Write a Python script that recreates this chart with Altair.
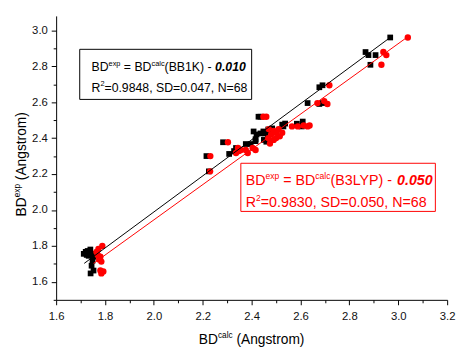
import altair as alt
import pandas as pd

# ---------------- data ----------------
bb1k_calc = [1.713, 1.721, 1.729, 1.737, 1.733, 1.745, 1.753, 1.749, 1.745, 1.753, 1.741, 1.725, 1.740,
             2.215, 2.225, 2.283, 2.308, 2.328, 2.336, 2.376, 2.396, 2.416, 2.416, 2.408, 2.448,
             2.428, 2.436, 2.420, 2.436, 2.456, 2.468, 2.484, 2.468, 2.525, 2.530, 2.537, 2.585,
             2.605, 2.609, 2.629, 2.677, 2.690, 2.677, 2.690, 2.466, 2.450, 2.460,
             2.866, 2.878, 2.907, 2.886, 2.967]
bb1k_exp = [1.756, 1.767, 1.772, 1.767, 1.745, 1.756, 1.740, 1.718, 1.690, 1.663, 1.647, 1.750, 1.780,
            2.300, 2.215, 2.377, 2.312, 2.328, 2.345, 2.367, 2.367, 2.383, 2.394, 2.437, 2.437,
            2.519, 2.519, 2.420, 2.426, 2.426, 2.448, 2.454, 2.437, 2.475, 2.465, 2.481, 2.480,
            2.465, 2.492, 2.595, 2.590, 2.595, 2.683, 2.694, 2.400, 2.390, 2.380,
            2.879, 2.862, 2.862, 2.808, 2.960]

b3lyp_calc = [1.765, 1.773, 1.789, 1.781, 1.785, 1.781, 1.793, 1.785, 1.770, 1.776,
              2.231, 2.230, 2.303, 2.336, 2.348, 2.344, 2.356, 2.376, 2.384, 2.404, 2.416,
              2.448, 2.460, 2.468, 2.480, 2.490, 2.500, 2.510, 2.490, 2.475, 2.500, 2.515,
              2.525, 2.470, 2.565, 2.589, 2.613, 2.629, 2.637, 2.669, 2.710, 2.697, 2.718,
              2.939, 2.951, 2.931, 3.039]
b3lyp_exp = [1.767, 1.783, 1.800, 1.740, 1.713, 1.663, 1.658, 1.647, 1.750, 1.725,
             2.300, 2.215, 2.377, 2.317, 2.328, 2.345, 2.334, 2.334, 2.317, 2.345, 2.334,
             2.519, 2.519, 2.400, 2.420, 2.440, 2.430, 2.450, 2.390, 2.370, 2.400, 2.410,
             2.430, 2.450, 2.465, 2.465, 2.470, 2.465, 2.470, 2.595, 2.590, 2.606, 2.694,
             2.879, 2.862, 2.808, 2.960]

bb1k_fit_x = [1.715, 2.967]
bb1k_fit_y = [1.703, 2.960]
b3lyp_fit_x = [1.753, 3.040]
b3lyp_fit_y = [1.703, 2.965]

x_ticks = [1.6, 1.7, 1.8, 1.9, 2.0, 2.1, 2.2, 2.3, 2.4, 2.5, 2.6, 2.7, 2.8, 2.9, 3.0, 3.1, 3.2]
y_ticks = [1.5, 1.6, 1.7, 1.8, 1.9, 2.0, 2.1, 2.2, 2.3, 2.4, 2.5, 2.6, 2.7, 2.8, 2.9, 3.0]

# ---------------- layout helpers ----------------
W, H = 398, 289
FONT = "Liberation Sans"
AW = {' ': 278, '(': 333, ')': 333, '-': 333, '.': 278, ',': 278, '=': 584,
      'A': 667, 'B': 667, 'D': 722, 'K': 667, 'L': 556, 'N': 722, 'P': 667, 'R': 722,
      'S': 667, 'Y': 667, 'a': 556, 'c': 500, 'e': 556, 'g': 556, 'l': 222, 'm': 833,
      'n': 556, 'o': 556, 'p': 556, 'r': 333, 's': 500, 't': 278, 'x': 500}


def tw(s, size):
    return sum(AW.get(ch, 556) for ch in s) * size / 1000.0


def rich(segments, x0, y0, size, color, angle=0):
    """segments: list of (text, kind) with kind in 'n', 'sup', 'bi'."""
    layers = []
    pos = 0.0
    for text, kind in segments:
        fs = size * 0.6 if kind == 'sup' else size
        raise_ = size * 0.42 if kind == 'sup' else 0
        lead = len(text) - len(text.lstrip(' '))
        shown = text.strip(' ')
        off = pos + tw(' ' * lead, fs)
        if angle == 0:
            x, y = x0 + off, y0 - raise_
        else:
            x, y = x0 - raise_, y0 - off
        props = dict(align="left", baseline="alphabetic", font=FONT, fontSize=fs, color=color)
        if angle:
            props["angle"] = angle
        if kind == 'bi':
            props["fontWeight"] = "bold"
            props["fontStyle"] = "italic"
        layers.append(
            alt.Chart(pd.DataFrame({"t": [shown]})).mark_text(**props).encode(
                x=alt.value(x), y=alt.value(y), text="t:N")
        )
        pos += tw(text, fs)
    return layers


def seq_width(segments, size):
    return sum(tw(t, size * 0.6 if k == 'sup' else size) for t, k in segments)


# ---------------- scales / axes ----------------
xscale = alt.Scale(domain=[1.6, 3.2], nice=False, zero=False)
yscale = alt.Scale(domain=[1.5, 3.08], nice=False, zero=False)

axis_common = dict(
    domainColor="black", domainWidth=1, tickColor="black", tickWidth=1,
    labelColor="#111111", labelFont=FONT, labelFontSize=11.5, grid=False, title=None,
    labelOverlap=False, labelFlush=False,
    tickSize={"expr": "round(datum.value*10) % 2 == 0 ? 5 : 3"},
    labelExpr="round(datum.value*10) % 2 == 0 ? format(datum.value, '.1f') : ''",
)
xaxis = alt.Axis(values=x_ticks, labelPadding=6, **axis_common)
yaxis = alt.Axis(values=y_ticks, labelPadding=4, **axis_common)

bb1k_df = pd.DataFrame({"calc": bb1k_calc, "exp": bb1k_exp})
b3lyp_df = pd.DataFrame({"calc": b3lyp_calc, "exp": b3lyp_exp})
bb1k_fit = pd.DataFrame({"calc": bb1k_fit_x, "exp": bb1k_fit_y})
b3lyp_fit = pd.DataFrame({"calc": b3lyp_fit_x, "exp": b3lyp_fit_y})

black_pts = alt.Chart(bb1k_df).mark_square(size=34, color="black", opacity=1).encode(
    x=alt.X("calc:Q", scale=xscale, axis=xaxis),
    y=alt.Y("exp:Q", scale=yscale, axis=yaxis),
)
red_pts = alt.Chart(b3lyp_df).mark_circle(size=42, color="#ff0000", opacity=1).encode(
    x=alt.X("calc:Q", scale=xscale, axis=xaxis), y=alt.Y("exp:Q", scale=yscale, axis=yaxis))
black_line = alt.Chart(bb1k_fit).mark_line(color="black", strokeWidth=1).encode(
    x=alt.X("calc:Q", scale=xscale, axis=xaxis), y=alt.Y("exp:Q", scale=yscale, axis=yaxis))
red_line = alt.Chart(b3lyp_fit).mark_line(color="#ff0000", strokeWidth=1).encode(
    x=alt.X("calc:Q", scale=xscale, axis=xaxis), y=alt.Y("exp:Q", scale=yscale, axis=yaxis))

# annotation boxes (pixel coords within plot area)
box_df = pd.DataFrame({"k": [0]})
black_box = alt.Chart(box_df).mark_rect(fill="white", stroke="black", strokeWidth=1).encode(
    x=alt.value(24), x2=alt.value(199), y=alt.value(34), y2=alt.value(85))
red_box = alt.Chart(box_df).mark_rect(fill="white", stroke="#ff0000", strokeWidth=1).encode(
    x=alt.value(188), x2=alt.value(386), y=alt.value(150), y2=alt.value(199))

texts = []
bs = 12.5
texts += rich([("BD", 'n'), ("exp", 'sup'), (" = BD", 'n'), ("calc", 'sup'), ("(BB1K) - ", 'n'),
               ("0.010", 'bi')], 36, 56, bs, "black")
texts += rich([("R", 'n'), ("2", 'sup'), ("=0.9848, SD=0.047, N=68", 'n')], 36, 77, bs, "black")
rs = 14.5
texts += rich([("BD", 'n'), ("exp", 'sup'), (" = BD", 'n'), ("calc", 'sup'), ("(B3LYP) - ", 'n'),
               ("0.050", 'bi')], 193, 172, rs, "#ff0000")
texts += rich([("R", 'n'), ("2", 'sup'), ("=0.9830, SD=0.050, N=68", 'n')], 193, 194, rs, "#ff0000")

ts = 14
xt = [("BD", 'n'), ("calc", 'sup'), (" (Angstrom)", 'n')]
texts += rich(xt, W / 2 - seq_width(xt, ts) / 2, 334, ts, "black")
yt = [("BD", 'n'), ("exp", 'sup'), (" (Angstrom)", 'n')]
texts += rich(yt, -31, 151 + seq_width(yt, ts) / 2, ts, "black", angle=270)

chart = alt.layer(black_pts, red_pts, black_line, red_line, black_box, red_box, *texts).properties(
    width=W, height=H, autosize="none",
    padding={"left": 49, "top": 5, "right": 9, "bottom": 48},
).configure_view(stroke=None)

chart.save("out.html", embed_options={"renderer": "svg", "actions": False})
